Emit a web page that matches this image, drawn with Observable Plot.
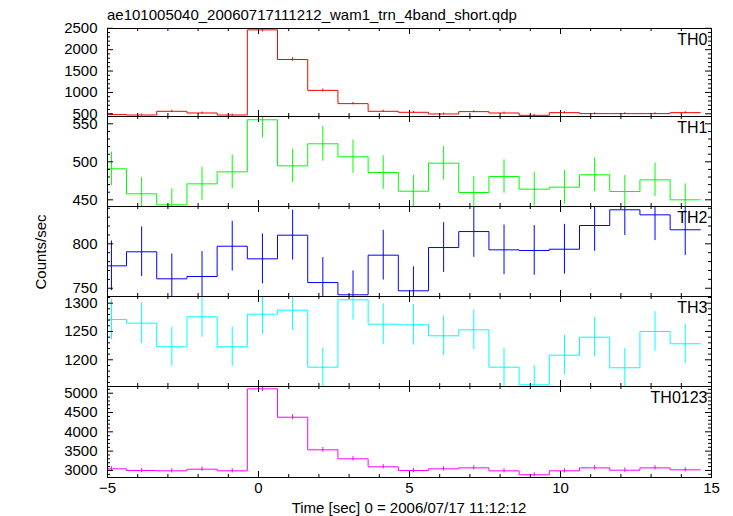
<!DOCTYPE html>
<html>
<head>
<meta charset="utf-8">
<script src="https://cdn.jsdelivr.net/npm/d3@7"></script>
<script src="https://cdn.jsdelivr.net/npm/@observablehq/plot@0.6"></script>
<style>
  body { margin: 0; background: #fff; }
  #chart { position: relative; width: 733px; height: 516px; overflow: hidden; background: #fff;
           font-family: "Liberation Sans", Arial, Helvetica, sans-serif; color: #000; }
  #chart svg { position: absolute; left: 0; overflow: visible; background: transparent !important; max-width: none !important; }
  .lbl { position: absolute; font-size: 15px; line-height: 1; white-space: nowrap; }
</style>
</head>
<body>
<div id="chart">
  <div class="lbl" id="title" style="left:107px; top:7px;">ae101005040_20060717111212_wam1_trn_4band_short.qdp</div>
  <div class="lbl" id="ylabel" style="left:40px; top:252px; transform: translate(-50%,-50%) rotate(-90deg);">Counts/sec</div>
  <div class="lbl" id="xlabel" style="left:409px; top:507px; transform: translate(-50%,-50%);">Time [sec] 0 = 2006/07/17 11:12:12</div>
</div>
<script>
// ---- data (bin centres in seconds, 1 s bins) ----
const time = [-4.87, -3.87, -2.87, -1.87, -0.87, 0.13, 1.13, 2.13, 3.13, 4.13,
              5.13, 6.13, 7.13, 8.13, 9.13, 10.13, 11.13, 12.13, 13.13, 14.13];
const halfWidth = 0.5;

const th0    = [481, 472, 558, 519, 472, 2463, 1770, 1048, 738, 558, 535, 496, 551, 519, 465, 527, 504, 504, 504, 527];
const th0Err = [22, 22, 24, 23, 22, 50, 42, 32, 27, 24, 23, 22, 23, 23, 22, 23, 22, 22, 22, 23];

const th1    = [490.8, 457.9, 443.4, 471.0, 486.8, 555.3, 494.7, 523.7, 506.6, 485.9,
                461.3, 498.2, 459.6, 480.6, 464.0, 466.6, 482.9, 460.9, 476.3, 450.0];
const th1Err = [22, 21, 21, 22, 22, 24, 22, 23, 22, 22, 21, 22, 21, 22, 22, 22, 22, 21, 22, 21];

const th2    = [775.2, 791.0, 760.6, 763.2, 797.3, 783.1, 809.7, 756.4, 742.6, 787.2,
                747.1, 795.8, 813.8, 793.2, 792.5, 793.9, 820.6, 838.3, 832.6, 815.8];
const th2Err = [28, 28, 28, 28, 28, 28, 28, 28, 27, 28, 27, 28, 29, 28, 28, 28, 29, 29, 29, 29];

const th3    = [1271.2, 1264.7, 1223.0, 1276.0, 1223.0, 1280.6, 1287.6, 1186.9, 1306.0, 1262.9,
                1261.8, 1242.4, 1253.0, 1186.9, 1155.8, 1208.1, 1239.9, 1185.9, 1250.0, 1228.3];
const th3Err = [36, 36, 35, 36, 35, 36, 36, 34, 36, 36, 36, 35, 35, 34, 34, 35, 35, 34, 35, 35];

const th0123    = [3041, 2998, 2990, 3032, 2990, 5114, 4378, 3534, 3301, 3094,
                   2998, 3041, 3067, 2990, 2887, 2990, 3067, 3006, 3067, 3016];
const th0123Err = [55, 55, 55, 55, 55, 72, 66, 59, 57, 56, 55, 55, 55, 55, 54, 55, 55, 55, 55, 55];

// ---- tick labels ----
const xDomain = [-5, 15];
const xMajor = [-5, 0, 5, 10, 15];
const xMinor = [-4, -3, -2, -1, 1, 2, 3, 4, 6, 7, 8, 9, 11, 12, 13, 14];

const panels = [
  {label: "TH0",    values: th0,    errors: th0Err,    color: "#ff0000", domain: [437, 2495],    majors: [500, 1000, 1500, 2000, 2500], minorStep: 100, top: 28,  bottom: 116},
  {label: "TH1",    values: th1,    errors: th1Err,    color: "#00ff00", domain: [441.2, 559.6], majors: [450, 500, 550],              minorStep: 10,  top: 116, bottom: 206},
  {label: "TH2",    values: th2,    errors: th2Err,    color: "#0000ff", domain: [740.7, 842],   majors: [750, 800],                   minorStep: 10,  top: 206, bottom: 296},
  {label: "TH3",    values: th3,    errors: th3Err,    color: "#00ffff", domain: [1152.8, 1311.8], majors: [1200, 1250, 1300],         minorStep: 10,  top: 296, bottom: 386},
  {label: "TH0123", values: th0123, errors: th0123Err, color: "#ff00ff", domain: [2817, 5174],   majors: [3000, 3500, 4000, 4500, 5000], minorStep: 100, top: 386, bottom: 477}
];

const chart = document.getElementById("chart");
const W = 733, mL = 107, mR = 22, pw = W - mL - mR;
const pad = 8;
const font = "'Liberation Sans', Arial, Helvetica, sans-serif";

panels.forEach((p, idx) => {
  const last = idx === panels.length - 1;
  const h = p.bottom - p.top;
  const mb = last ? 40 : pad;
  const bins = time.map((t, i) => ({t, v: p.values[i], e: p.errors[i]}));
  const steps = bins.flatMap(b => [{x: b.t - halfWidth, y: b.v}, {x: b.t + halfWidth, y: b.v}]);
  const minors = d3.range(Math.ceil(p.domain[0] / p.minorStep) * p.minorStep, p.domain[1], p.minorStep)
                   .filter(v => !p.majors.includes(v));
  const marks = [
    Plot.line(steps, {x: "x", y: "y", stroke: p.color, strokeWidth: 1, clip: true}),
    Plot.ruleX(bins, {x: "t", y1: d => d.v - d.e, y2: d => d.v + d.e, stroke: p.color, strokeWidth: 1, clip: true}),
    // y ticks, inward, both sides
    Plot.ruleY(minors, {insetRight: pw - 3, stroke: "#000"}),
    Plot.ruleY(minors, {insetLeft: pw - 3, stroke: "#000"}),
    Plot.ruleY(p.majors, {insetRight: pw - 6, stroke: "#000"}),
    Plot.ruleY(p.majors, {insetLeft: pw - 6, stroke: "#000"}),
    // x ticks, inward, top and bottom
    Plot.ruleX(xMinor, {insetBottom: h - 3, stroke: "#000"}),
    Plot.ruleX(xMinor, {insetTop: h - 3, stroke: "#000"}),
    Plot.ruleX(xMajor, {insetBottom: h - 6, stroke: "#000"}),
    Plot.ruleX(xMajor, {insetTop: h - 6, stroke: "#000"}),
    Plot.frame({stroke: "#000", strokeWidth: 1}),
    Plot.axisY(p.majors, {tickSize: 0, tickPadding: 10, fontSize: 15, label: null, tickFormat: d3.format("d")}),
    Plot.text([p.label], {text: d => d, frameAnchor: "top-right", dx: -4, dy: 5, lineAnchor: "top", textAnchor: "end", fontSize: 16, fill: "#000"})
  ];
  if (last) {
    marks.push(Plot.axisX(xMajor, {tickSize: 0, tickPadding: 5, fontSize: 15, label: null, tickFormat: d3.format("d")}));
  }
  const svg = Plot.plot({
    width: W,
    height: h + pad + mb,
    marginLeft: mL,
    marginRight: mR,
    marginTop: pad,
    marginBottom: mb,
    style: {fontFamily: font, fontSize: "15px", background: "transparent", color: "#000"},
    x: {domain: xDomain, axis: last ? undefined : null},
    y: {domain: p.domain},
    marks
  });
  svg.style.top = (p.top - pad) + "px";
  chart.appendChild(svg);
});
</script>
</body>
</html>
